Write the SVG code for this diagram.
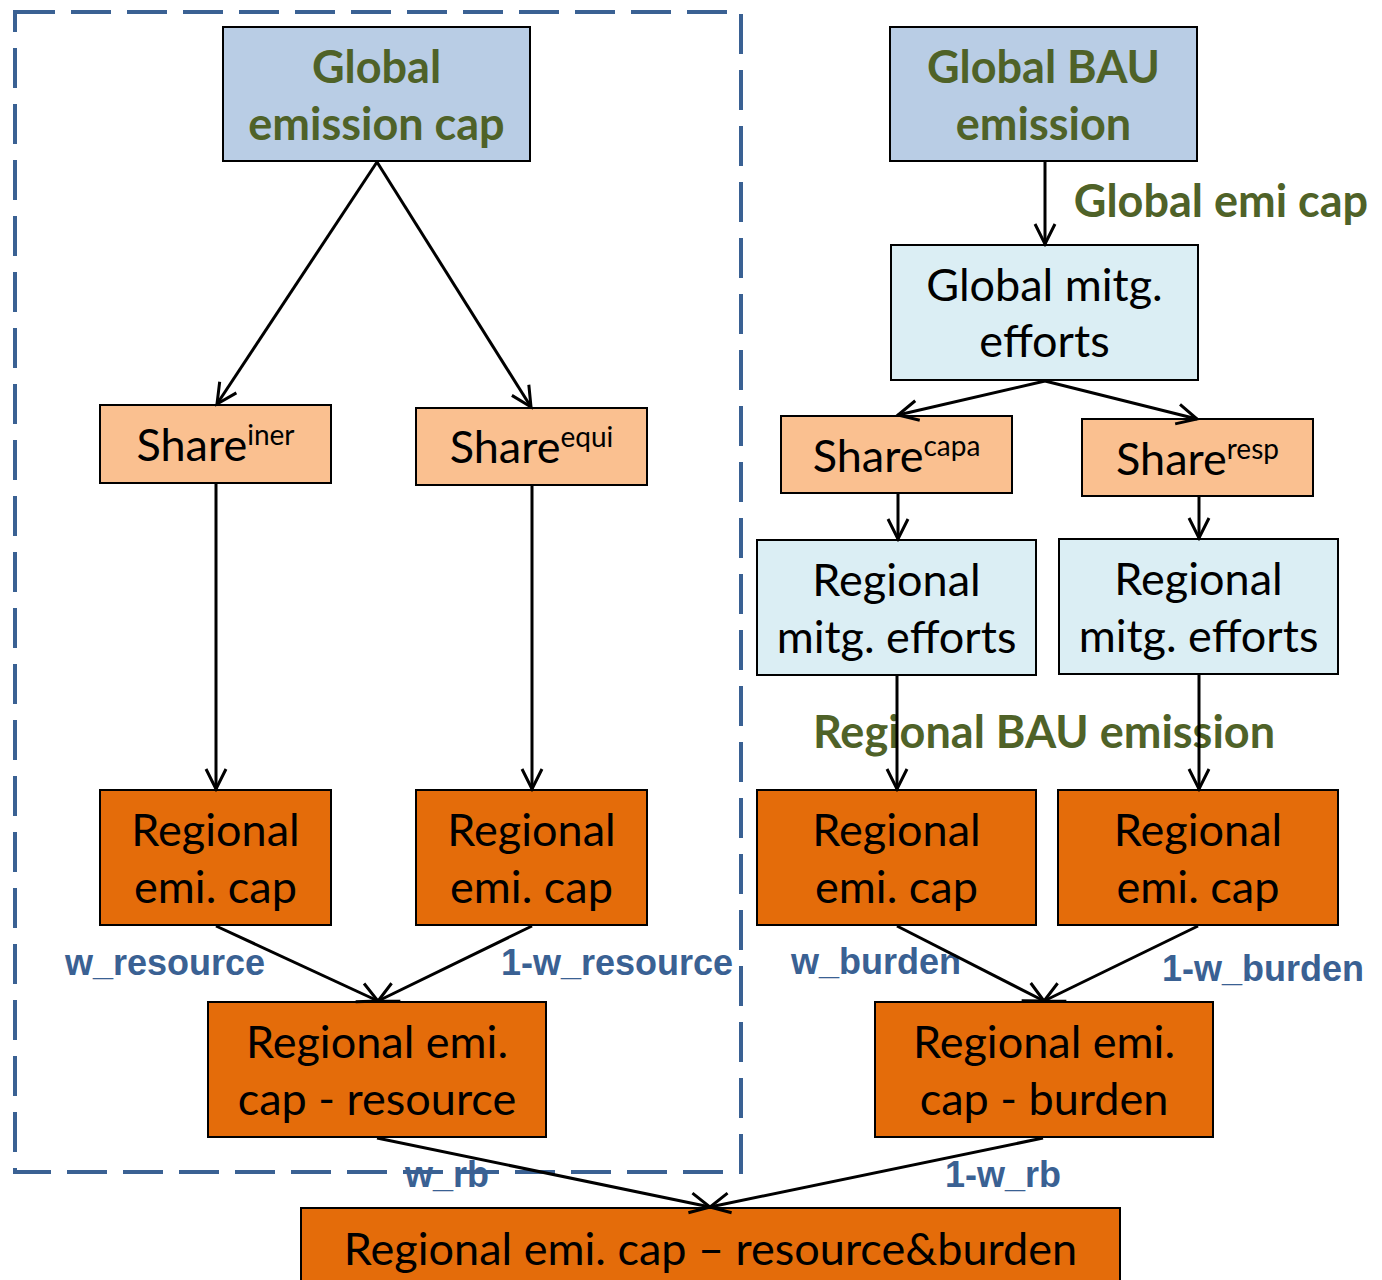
<svg xmlns="http://www.w3.org/2000/svg" width="1382" height="1280" viewBox="0 0 1382 1280">
<style>
.box{stroke:#000;stroke-width:2}
.blue{fill:#B9CDE5}
.cyan{fill:#DBEEF4}
.peach{fill:#FAC090}
.orange{fill:#E46C0A}
.t{font-family:Lato,"Open Sans",sans-serif;font-size:45px;fill:#000;text-anchor:middle}
.g{font-family:Lato,"Open Sans",sans-serif;font-size:45px;font-weight:bold;fill:#4F6228;text-anchor:middle}
.sup{font-size:28px}
.lbl{font-family:"Liberation Sans",Arial,sans-serif;font-size:36px;font-weight:bold;fill:#3A6193}
.conn{stroke:#000;stroke-width:3;fill:none;marker-end:url(#arr)}
</style>
<defs>
<marker id="arr" markerUnits="userSpaceOnUse" markerWidth="26" markerHeight="26" viewBox="0 0 26 26" refX="23" refY="13" orient="auto">
<path d="M3,3 L23,13 L3,23" fill="none" stroke="#000" stroke-width="3"/>
</marker>
</defs>
<rect width="1382" height="1280" fill="#fff"/>

<g id="n-global-cap"><rect class="box blue" x="223" y="27" width="307" height="134"/><text class="g" x="376.5" y="83">Global</text><text class="g" x="376.5" y="140">emission cap</text></g>
<g id="n-global-bau"><rect class="box blue" x="890" y="27" width="307" height="134"/><text class="g" x="1043.5" y="83">Global BAU</text><text class="g" x="1043.5" y="140">emission</text></g>
<g id="n-global-mitg"><rect class="box cyan" x="891" y="245" width="307" height="135"/><text class="t" x="1044.5" y="301">Global mitg.</text><text class="t" x="1044.5" y="357">efforts</text></g>

<g id="n-share-iner"><rect class="box peach" x="100" y="405" width="231" height="78"/><text class="t" x="215.5" y="461">Share<tspan class="sup" dy="-16">iner</tspan></text></g>
<g id="n-share-equi"><rect class="box peach" x="416" y="408" width="231" height="77"/><text class="t" x="531.5" y="463">Share<tspan class="sup" dy="-16">equi</tspan></text></g>
<g id="n-share-capa"><rect class="box peach" x="781" y="416" width="231" height="77"/><text class="t" x="896.5" y="472">Share<tspan class="sup" dy="-16">capa</tspan></text></g>
<g id="n-share-resp"><rect class="box peach" x="1082" y="419" width="231" height="77"/><text class="t" x="1197.5" y="475">Share<tspan class="sup" dy="-16">resp</tspan></text></g>

<g id="n-reg-mitg-1"><rect class="box cyan" x="757" y="540" width="279" height="135"/><text class="t" x="896.5" y="596">Regional</text><text class="t" x="896.5" y="653">mitg. efforts</text></g>
<g id="n-reg-mitg-2"><rect class="box cyan" x="1059" y="539" width="279" height="135"/><text class="t" x="1198.5" y="595">Regional</text><text class="t" x="1198.5" y="652">mitg. efforts</text></g>

<g id="n-reg-cap-1"><rect class="box orange" x="100" y="790" width="231" height="135"/><text class="t" x="215.5" y="846">Regional</text><text class="t" x="215.5" y="903">emi. cap</text></g>
<g id="n-reg-cap-2"><rect class="box orange" x="416" y="790" width="231" height="135"/><text class="t" x="531.5" y="846">Regional</text><text class="t" x="531.5" y="903">emi. cap</text></g>
<g id="n-reg-cap-3"><rect class="box orange" x="757" y="790" width="279" height="135"/><text class="t" x="896.5" y="846">Regional</text><text class="t" x="896.5" y="903">emi. cap</text></g>
<g id="n-reg-cap-4"><rect class="box orange" x="1058" y="790" width="280" height="135"/><text class="t" x="1198" y="846">Regional</text><text class="t" x="1198" y="903">emi. cap</text></g>

<g id="n-cap-resource"><rect class="box orange" x="208" y="1002" width="338" height="135"/><text class="t" x="377" y="1058">Regional emi.</text><text class="t" x="377" y="1115">cap - resource</text></g>
<g id="n-cap-burden"><rect class="box orange" x="875" y="1002" width="338" height="135"/><text class="t" x="1044" y="1058">Regional emi.</text><text class="t" x="1044" y="1115">cap - burden</text></g>
<g id="n-cap-rb"><rect class="box orange" x="301" y="1208" width="819" height="100"/><text class="t" x="710.5" y="1265">Regional emi. cap – resource&amp;burden</text></g>

<g id="labels">
<text class="g" x="1221" y="217">Global emi cap</text>
<text class="g" x="1044" y="748">Regional BAU emission</text>
<text class="lbl" x="65" y="975">w_resource</text>
<text class="lbl" x="501" y="975">1-w_resource</text>
<text class="lbl" x="791" y="974">w_burden</text>
<text class="lbl" x="1162" y="981">1-w_burden</text>
<text class="lbl" x="405" y="1187">w_rb</text>
<text class="lbl" x="945" y="1187">1-w_rb</text>
</g>

<g id="group-box"><rect x="15" y="12" width="726" height="1160" fill="none" stroke="#3A6193" stroke-width="4" stroke-dasharray="40 16"/></g>

<g id="connectors">
<line class="conn" x1="377" y1="162" x2="217" y2="404"/>
<line class="conn" x1="377" y1="162" x2="531" y2="407"/>
<line class="conn" x1="216" y1="484" x2="216" y2="789"/>
<line class="conn" x1="532" y1="486" x2="532" y2="789"/>
<line class="conn" x1="1045" y1="162" x2="1045" y2="244"/>
<line class="conn" x1="1045" y1="381" x2="898" y2="415"/>
<line class="conn" x1="1045" y1="381" x2="1197" y2="419"/>
<line class="conn" x1="898" y1="494" x2="898" y2="539"/>
<line class="conn" x1="1199" y1="497" x2="1199" y2="538"/>
<line class="conn" x1="897" y1="676" x2="897" y2="789"/>
<line class="conn" x1="1199" y1="675" x2="1199" y2="789"/>
<line class="conn" x1="216" y1="926" x2="378" y2="1001"/>
<line class="conn" x1="532" y1="926" x2="378" y2="1001"/>
<line class="conn" x1="897" y1="926" x2="1044" y2="1001"/>
<line class="conn" x1="1198" y1="926" x2="1044" y2="1001"/>
<line class="conn" x1="377" y1="1138" x2="710" y2="1207"/>
<line class="conn" x1="1043" y1="1138" x2="710" y2="1207"/>
</g>
</svg>
